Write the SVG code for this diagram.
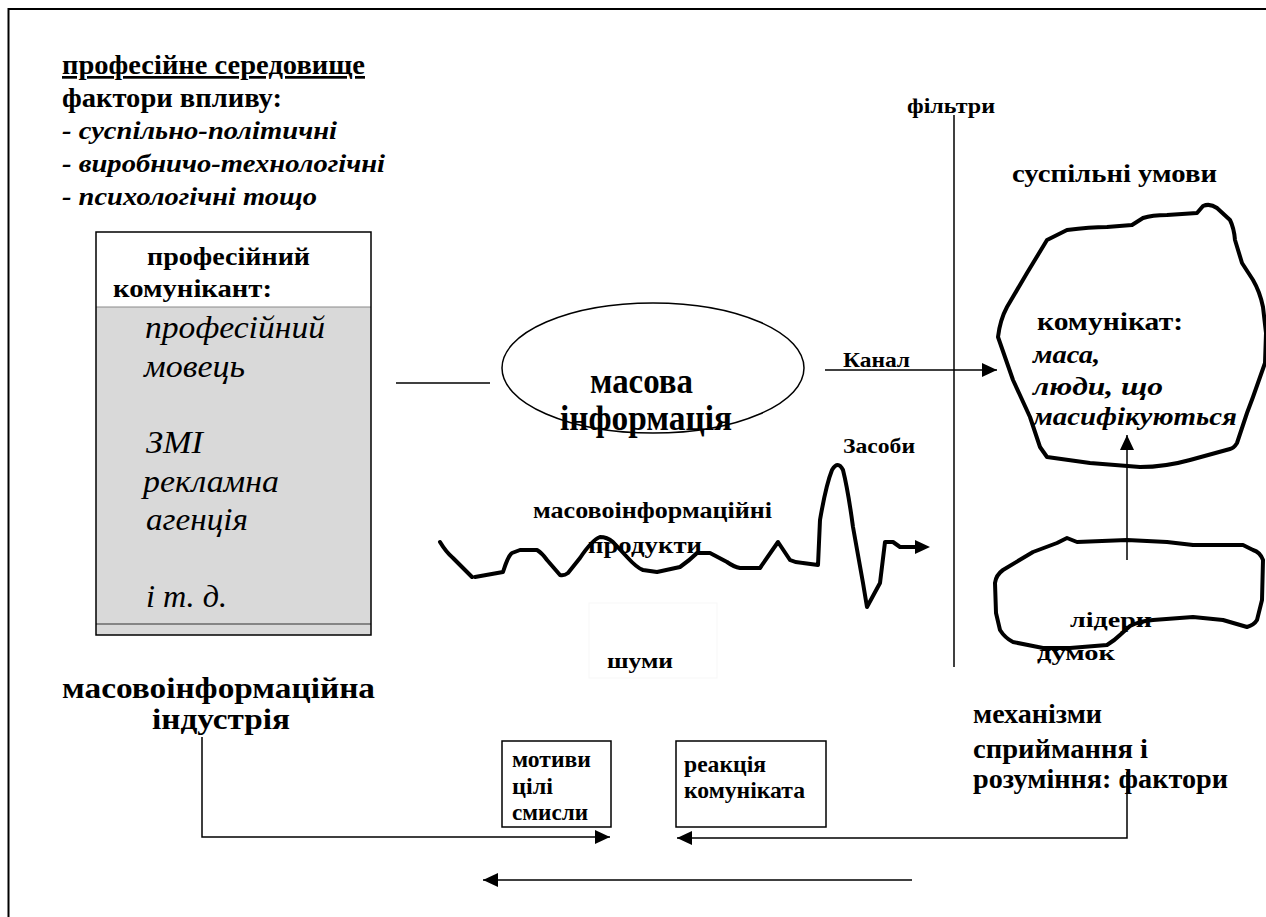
<svg xmlns="http://www.w3.org/2000/svg" width="1266" height="917" viewBox="0 0 1266 917">
<defs>
<marker id="ah" markerUnits="userSpaceOnUse" markerWidth="16" markerHeight="14" refX="15" refY="7" orient="auto">
<path d="M0,0 L15,7 L0,14 Z" fill="#000"/>
</marker>
<style>
text{font-family:"Liberation Serif","Times New Roman",serif;fill:#000}
.b{font-weight:bold}
.bi{font-weight:bold;font-style:italic}
.i{font-style:italic}
.ln{stroke:#000;stroke-width:1.5;fill:none}
.thick{stroke:#000;stroke-width:4;fill:none;stroke-linejoin:round;stroke-linecap:round}
</style>
</defs>
<rect x="0" y="0" width="1266" height="917" fill="#fff"/>
<rect x="8.5" y="9" width="1300" height="1000" fill="none" stroke="#000" stroke-width="2"/>

<g id="environment">
<text class="b" x="62" y="74" font-size="27" textLength="303" lengthAdjust="spacingAndGlyphs" text-decoration="underline">професійне середовище</text>
<text class="b" x="62" y="107" font-size="27" textLength="220" lengthAdjust="spacingAndGlyphs">фактори впливу:</text>
<text class="bi" x="62" y="139" font-size="25" textLength="275" lengthAdjust="spacingAndGlyphs">- суспільно-політичні</text>
<text class="bi" x="62" y="172" font-size="25" textLength="323" lengthAdjust="spacingAndGlyphs">- виробничо-технологічні</text>
<text class="bi" x="62" y="205" font-size="25" textLength="255" lengthAdjust="spacingAndGlyphs">- психологічні тощо</text>
</g>

<g id="communicant">
<rect x="96" y="232" width="275" height="403" fill="#fff" stroke="none"/>
<rect x="96" y="307" width="275" height="328" fill="#d9d9d9"/>
<line x1="96" y1="307" x2="371" y2="307" stroke="#8a8a8a" stroke-width="1"/>
<line x1="96" y1="624" x2="371" y2="624" stroke="#333" stroke-width="1.2"/>
<rect x="96" y="232" width="275" height="403" fill="none" stroke="#000" stroke-width="1.5"/>
<text class="b" x="147" y="265" font-size="25" textLength="163" lengthAdjust="spacingAndGlyphs">професійний</text>
<text class="b" x="113" y="297" font-size="25" textLength="159" lengthAdjust="spacingAndGlyphs">комунікант:</text>
<text class="i" x="145" y="338" font-size="31" textLength="180" lengthAdjust="spacingAndGlyphs">професійний</text>
<text class="i" x="144" y="377" font-size="31" textLength="101" lengthAdjust="spacingAndGlyphs">мовець</text>
<text class="i" x="146" y="453" font-size="31" textLength="57" lengthAdjust="spacingAndGlyphs">ЗМІ</text>
<text class="i" x="143" y="492" font-size="31" textLength="136" lengthAdjust="spacingAndGlyphs">рекламна</text>
<text class="i" x="146" y="530" font-size="31" textLength="102" lengthAdjust="spacingAndGlyphs">агенція</text>
<text class="i" x="146" y="607" font-size="31" textLength="81" lengthAdjust="spacingAndGlyphs">і т. д.</text>
</g>

<g id="mass-info">
<ellipse cx="653" cy="368" rx="151" ry="65" fill="none" stroke="#000" stroke-width="1.5"/>
<text class="b" x="590" y="393" font-size="36" textLength="103" lengthAdjust="spacingAndGlyphs">масова</text>
<text class="b" x="560" y="430" font-size="36" textLength="172" lengthAdjust="spacingAndGlyphs">інформація</text>
</g>

<g id="products">
<path class="thick" d="M440,542 Q446,552 453,558 L472,577 M475,577 L503,572 Q508,556 512,553 L520,550 L537,550 Q542,553 547,560 L560,575 Q564,576 568,573 L580,558 Q592,540 600,537 Q607,537 613,542 L627,557 Q637,568 643,570 L657,572 L680,567 Q690,560 697,553 L710,553 L727,562 Q734,567 740,568 L760,568 L778,542 L790,560 Q796,563 803,563 L818,565 L820,520 Q826,485 832,470 Q838,460 843,470 Q848,490 853,527 L863,583 L867,607 L880,583 L885,542 L893,542 L900,547 L916,547"/>
<path d="M915,540 L930,547 L915,554 Z" fill="#000"/>
<text class="b" x="533" y="518" font-size="23" textLength="239" lengthAdjust="spacingAndGlyphs">масовоінформаційні</text>
<text class="b" x="588" y="553" font-size="23" textLength="114" lengthAdjust="spacingAndGlyphs">продукти</text>
<text class="b" x="843" y="453" font-size="21" textLength="72" lengthAdjust="spacingAndGlyphs">Засоби</text>
</g>

<g id="noise">
<rect x="589" y="603" width="128" height="75" fill="none" stroke="#f7f7f7" stroke-width="1"/>
<text class="b" x="607" y="668" font-size="22" textLength="66" lengthAdjust="spacingAndGlyphs">шуми</text>
</g>

<g id="filters">
<text class="b" x="907" y="113" font-size="21" textLength="88" lengthAdjust="spacingAndGlyphs">фільтри</text>
<text class="b" x="843" y="367" font-size="21" textLength="67" lengthAdjust="spacingAndGlyphs">Канал</text>
</g>

<g id="recipient">
<text class="b" x="1012" y="182" font-size="25" textLength="205" lengthAdjust="spacingAndGlyphs">суспільні умови</text>
<path class="thick" stroke-width="3.5" d="M1203,206 Q1210,203 1217,208 L1230,220 Q1234,228 1235,240 L1242,263 L1253,280 Q1260,292 1263,307 L1266,333 L1265,363 L1253,397 L1247,413 L1237,443 Q1234,448 1230,449 L1190,460 Q1165,467 1140,467 L1090,463 L1047,457 L1040,447 L1030,417 L1013,380 L998,337 Q1000,320 1007,307 L1027,273 L1047,240 L1067,230 Q1090,227 1107,227 L1132,225 L1143,218 Q1152,215 1167,215 L1197,213 Z"/>
<text class="b" x="1037" y="330" font-size="25" textLength="146" lengthAdjust="spacingAndGlyphs">комунікат:</text>
<text class="bi" x="1033" y="363" font-size="25" textLength="67" lengthAdjust="spacingAndGlyphs">маса,</text>
<text class="bi" x="1033" y="395" font-size="25" textLength="130" lengthAdjust="spacingAndGlyphs">люди, що</text>
<text class="bi" x="1033" y="425" font-size="25" textLength="204" lengthAdjust="spacingAndGlyphs">масифікуються</text>
</g>

<g id="leaders">
<path class="thick" stroke-width="3.5" d="M1067,538 L1057,543 L1033,552 L1003,570 Q996,575 995,583 L996,613 L1000,630 Q1005,638 1013,642 L1043,648 L1070,648 L1107,645 Q1115,640 1120,635 L1130,626 Q1140,621 1153,620 L1193,617 L1223,620 L1247,627 Q1254,625 1257,620 L1262,600 L1263,560 Q1260,552 1253,550 L1243,545 L1193,545 L1167,542 L1127,540 L1077,542 Z"/>
<text class="b" x="1070" y="627" font-size="22" textLength="82" lengthAdjust="spacingAndGlyphs">лідери</text>
<text class="b" x="1037" y="660" font-size="22" textLength="78" lengthAdjust="spacingAndGlyphs">думок</text>
</g>

<g id="mechanisms">
<text class="b" x="973" y="723" font-size="27" textLength="129" lengthAdjust="spacingAndGlyphs">механізми</text>
<text class="b" x="973" y="758" font-size="27" textLength="175" lengthAdjust="spacingAndGlyphs">сприймання і</text>
<text class="b" x="973" y="788" font-size="27" textLength="255" lengthAdjust="spacingAndGlyphs">розуміння: фактори</text>
</g>

<g id="industry">
<text class="b" x="62" y="698" font-size="30" textLength="313" lengthAdjust="spacingAndGlyphs">масовоінформаційна</text>
<text class="b" x="152" y="729" font-size="30" textLength="138" lengthAdjust="spacingAndGlyphs">індустрія</text>
</g>

<g id="motives">
<rect x="502" y="741" width="109" height="86" fill="#fff" stroke="#000" stroke-width="1.5"/>
<text class="b" x="512" y="767" font-size="23" textLength="79" lengthAdjust="spacingAndGlyphs">мотиви</text>
<text class="b" x="512" y="794" font-size="23" textLength="41" lengthAdjust="spacingAndGlyphs">цілі</text>
<text class="b" x="512" y="820" font-size="23" textLength="76" lengthAdjust="spacingAndGlyphs">смисли</text>
</g>

<g id="reaction">
<rect x="676" y="741" width="150" height="86" fill="#fff" stroke="#000" stroke-width="1.5"/>
<text class="b" x="684" y="772" font-size="23" textLength="82" lengthAdjust="spacingAndGlyphs">реакція</text>
<text class="b" x="684" y="798" font-size="23" textLength="121" lengthAdjust="spacingAndGlyphs">комуніката</text>
</g>

<g id="connectors">
<line class="ln" x1="396" y1="383" x2="490" y2="383"/>
<line class="ln" x1="825" y1="370" x2="997" y2="370" marker-end="url(#ah)"/>
<line class="ln" x1="954" y1="115" x2="954" y2="667"/>
<line class="ln" x1="1127" y1="560" x2="1127" y2="435" marker-end="url(#ah)"/>
<polyline class="ln" points="202,737 202,837 610,837" marker-end="url(#ah)"/>
<polyline class="ln" points="1127,772 1127,838 677,838" marker-end="url(#ah)"/>
<line class="ln" x1="912" y1="880" x2="483" y2="880" marker-end="url(#ah)"/>
</g>
</svg>
